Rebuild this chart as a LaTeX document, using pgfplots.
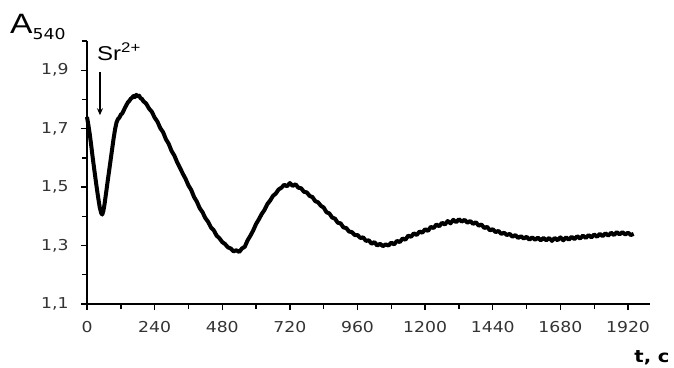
\documentclass[border=0pt]{standalone}
\usepackage{fontspec}
\usepackage{pgfplots}
\pgfplotsset{compat=1.18}
\usetikzlibrary{arrows.meta}
\newfontfamily\tickfont[FakeStretch=1.15]{DejaVu Sans}
\newfontfamily\lblfont[FakeStretch=1.2]{Liberation Sans}
\begin{document}
\begin{tikzpicture}
\begin{axis}[
  scale only axis, width=563bp, height=263bp,
  xmin=0, xmax=1998, ymin=1.1, ymax=2.0,
  axis lines=left, axis line style={-, line width=1.6bp},
  clip=false,
  xtick={0,240,...,1920}, minor xtick={120,360,...,1800},
  ytick={1.1,1.3,1.5,1.7,1.9}, minor ytick={1.2,1.4,1.6,1.8,2.0},
  tick align=outside, major tick length=6bp, minor tick length=5bp,
  every tick/.style={black, line width=1.4bp},
  minor tick style={black, line width=1.4bp},
  /pgf/number format/assume math mode=true,
  /pgf/number format/use comma,
  yticklabel style={xshift=-9bp, /pgf/number format/fixed, /pgf/number format/precision=1, /pgf/number format/fixed zerofill},
  xticklabel style={yshift=-8bp, /pgf/number format/1000 sep={}},
  tick label style={font=\tickfont\fontsize{15bp}{18bp}\selectfont, text=black!80},
]
\addplot[black, line width=4bp, line join=round] coordinates {
(0,1.740)(5,1.712)(10,1.680)(15,1.642)(20,1.603)(25,1.566)(30,1.530)(35,1.495)(40,1.462)(45,1.432)(50,1.412)(54,1.406)(58,1.418)(62,1.440)(66,1.468)(70,1.496)(75,1.532)(80,1.566)(85,1.601)(90,1.636)(95,1.670)(100,1.700)(105,1.722)(110,1.733)(115,1.738)(120,1.748)(125,1.752)(130,1.762)(135,1.772)(140,1.781)(145,1.790)(150,1.795)(155,1.802)(160,1.806)(165,1.812)(170,1.808)(175,1.816)(180,1.810)(185,1.813)(190,1.804)(195,1.802)(200,1.794)
(210,1.786)(220,1.769)(230,1.758)(240,1.738)(250,1.724)(260,1.702)(270,1.688)(280,1.664)(290,1.648)(300,1.624)(310,1.608)(320,1.585)(330,1.566)(340,1.546)(350,1.528)(360,1.506)(370,1.490)(380,1.466)(390,1.450)(400,1.428)(410,1.414)(420,1.394)(430,1.381)(440,1.362)(450,1.352)(460,1.334)(470,1.325)(480,1.312)(490,1.305)(500,1.294)(510,1.290)(520,1.280)(530,1.284)(540,1.278)(550,1.290)(560,1.296)(570,1.318)(580,1.334)(590,1.352)(600,1.374)
(610,1.390)(620,1.408)(630,1.422)(640,1.442)(650,1.454)(660,1.470)(670,1.478)(680,1.492)(690,1.498)(700,1.508)(710,1.503)(720,1.514)(730,1.504)(740,1.510)(750,1.498)(760,1.496)(770,1.484)(780,1.482)(790,1.470)(800,1.466)(810,1.452)(820,1.448)(830,1.436)(840,1.430)(850,1.414)(860,1.410)(870,1.396)(880,1.392)(890,1.378)(900,1.376)(910,1.362)(920,1.360)(930,1.348)(940,1.346)(950,1.336)(960,1.336)(970,1.326)(980,1.328)(990,1.316)(1000,1.318)
(1010,1.306)(1020,1.312)(1030,1.300)(1040,1.306)(1050,1.298)(1060,1.304)(1070,1.300)(1080,1.310)(1090,1.304)(1100,1.316)(1110,1.312)(1120,1.324)(1130,1.320)(1140,1.334)(1150,1.330)(1160,1.342)(1170,1.336)(1180,1.348)(1190,1.344)(1200,1.356)(1210,1.350)(1220,1.364)(1230,1.360)(1240,1.372)(1250,1.366)(1260,1.378)(1270,1.372)(1280,1.384)(1290,1.376)(1300,1.388)(1310,1.380)(1320,1.390)(1330,1.382)(1340,1.388)(1350,1.378)(1360,1.384)(1370,1.374)(1380,1.380)(1390,1.368)(1400,1.372)
(1410,1.360)(1420,1.364)(1430,1.352)(1440,1.356)(1450,1.346)(1460,1.350)(1470,1.340)(1480,1.344)(1490,1.336)(1500,1.340)(1510,1.330)(1520,1.336)(1530,1.326)(1540,1.332)(1550,1.324)(1560,1.330)(1570,1.320)(1580,1.328)(1590,1.320)(1600,1.327)(1610,1.318)(1620,1.326)(1630,1.318)(1640,1.326)(1650,1.316)(1660,1.326)(1670,1.318)(1680,1.328)(1690,1.318)(1700,1.328)(1710,1.320)(1720,1.330)(1730,1.322)(1740,1.332)(1750,1.324)(1760,1.334)(1770,1.326)(1780,1.336)(1790,1.328)(1800,1.338)
(1810,1.330)(1820,1.340)(1830,1.332)(1840,1.342)(1850,1.334)(1860,1.344)(1870,1.336)(1880,1.346)(1890,1.338)(1900,1.346)(1910,1.338)(1920,1.344)(1930,1.336)(1940,1.340)
};
\draw[-{Stealth[length=7bp,width=6bp]}, line width=1.3bp] (axis cs:46,1.893) -- (axis cs:46,1.746);
\node[anchor=base west, inner sep=0pt, font=\lblfont\fontsize{20bp}{24bp}\selectfont] at ([shift={(10bp,-19bp)}]rel axis cs:0,1) {Sr\textsuperscript{2+}};
\node[anchor=base west, inner sep=0pt, font=\lblfont\fontsize{28bp}{32bp}\selectfont] at ([shift={(-77bp,8bp)}]rel axis cs:0,1) {A\raisebox{-6bp}{\tickfont\fontsize{15bp}{18bp}\selectfont 540}};
\node[anchor=center, inner sep=0pt, font=\tickfont\fontsize{17bp}{20bp}\selectfont\bfseries] at ([shift={(2bp,-54bp)}]rel axis cs:1,0) {t, c};
\coordinate (bl) at (rel axis cs:0,0);
\end{axis}
\path ([shift={(-87bp,-64bp)}]bl) rectangle ([shift={(587bp,304bp)}]bl);
\end{tikzpicture}
\end{document}
